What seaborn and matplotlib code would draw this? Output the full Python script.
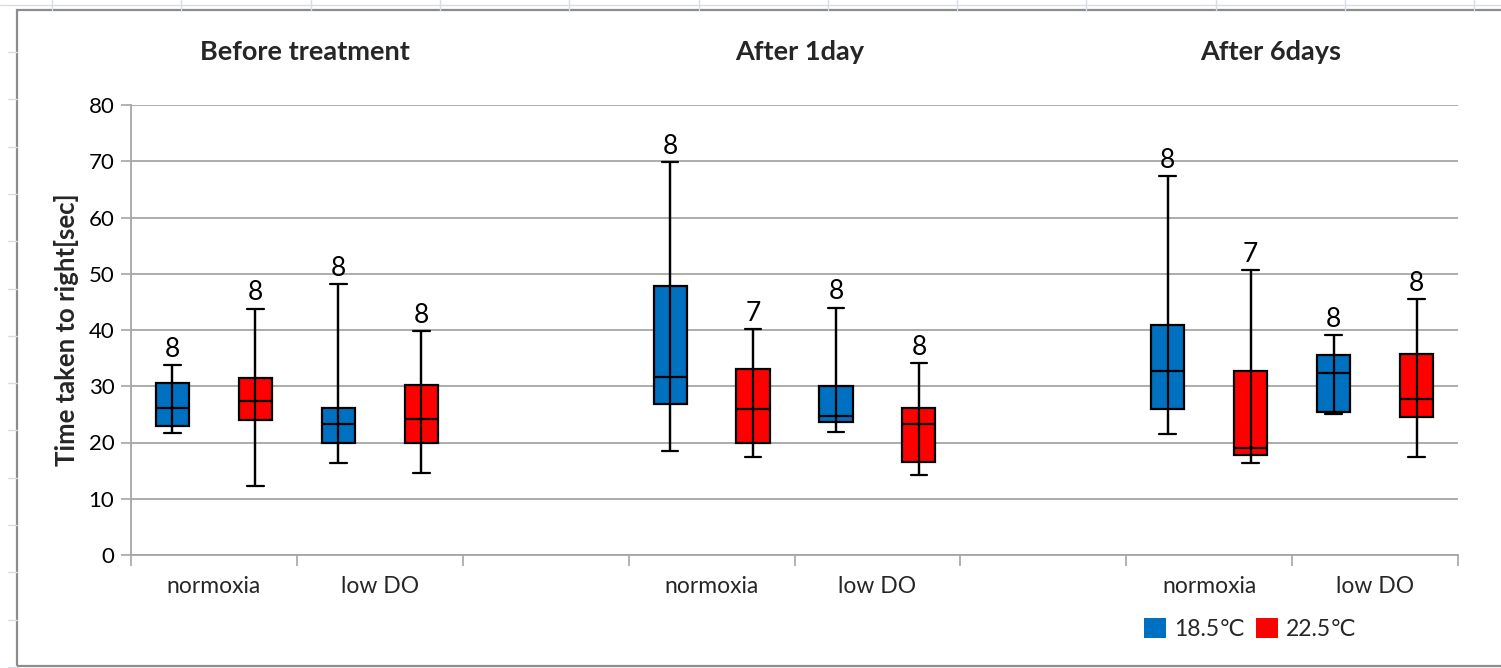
import numpy as np
import pandas as pd
import matplotlib
matplotlib.use("Agg")
import matplotlib.pyplot as plt
import seaborn as sns
from matplotlib.patches import Patch, Rectangle
from matplotlib.lines import Line2D

# ---------------- data ----------------
periods = ["Before treatment", "After 1day", "After 6days"]
conditions = ["normoxia", "low DO"]
temps = ["18.5℃", "22.5℃"]

# order of boxes: period -> condition -> temperature
box_period = ["Before treatment"] * 4 + ["After 1day"] * 4 + ["After 6days"] * 4
box_condition = ["normoxia", "normoxia", "low DO", "low DO"] * 3
box_temp = ["18.5℃", "22.5℃"] * 6

mins    = [21.7, 12.3, 16.4, 14.5,  18.5, 17.5, 21.9, 14.2,  21.6, 16.4, 25.0, 17.4]
q1s     = [22.9, 24.0, 19.9, 20.0,  26.9, 20.0, 23.6, 16.5,  25.9, 17.7, 25.5, 24.6]
medians = [26.2, 27.3, 23.3, 24.2,  31.6, 25.9, 24.7, 23.3,  32.7, 19.1, 32.3, 27.7]
q3s     = [30.5, 31.5, 26.1, 30.3,  47.8, 33.1, 30.0, 26.2,  40.9, 32.7, 35.6, 35.7]
maxs    = [33.8, 43.8, 48.2, 39.8,  69.8, 40.1, 44.0, 34.1,  67.3, 50.6, 39.1, 45.5]
n_labels = ["8", "8", "8", "8",  "8", "7", "8", "8",  "8", "7", "8", "8"]

y_ticks = [0, 10, 20, 30, 40, 50, 60, 70, 80]
y_label = "Time taken to right[sec]"
colors = ["#0070C0", "#FF0000"]

# ---------------- layout of category slots ----------------
slots = []
slot_labels = []
for i, p in enumerate(periods):
    for c in conditions:
        slots.append(f"{p}|{c}")
        slot_labels.append(c)
    if i < len(periods) - 1:
        slots.append(f"gap{i}")
        slot_labels.append("")

rows = []
for k in range(len(mins)):
    slot = f"{box_period[k]}|{box_condition[k]}"
    for v in (mins[k], q1s[k], medians[k], q3s[k], maxs[k]):
        rows.append({"slot": slot, "temp": box_temp[k], "value": v})
df = pd.DataFrame(rows)

# ---------------- figure ----------------
sns.set_theme(style="white")
plt.rcParams["font.family"] = ["Lato", "DejaVu Sans"]

fig = plt.figure(figsize=(15.01, 6.68), dpi=100)
ax = fig.add_axes([131 / 1501, 113 / 668, 1327 / 1501, 450 / 668])

grid_c = "#A6A6A6"
ax.set_axisbelow(True)
ax.yaxis.grid(True, color=grid_c, linewidth=1.3)

sns.boxplot(data=df, x="slot", y="value", hue="temp", order=slots,
            hue_order=temps, palette=colors, saturation=1, whis=(0, 100),
            width=1.0, gap=0.6, linecolor="black", linewidth=1.6,
            fliersize=0, legend=False, ax=ax)

# whisker line running through the box (Excel style) and n labels
offsets = {temps[0]: -0.25, temps[1]: 0.25}
for k in range(len(mins)):
    pos = slots.index(f"{box_period[k]}|{box_condition[k]}") + offsets[box_temp[k]]
    ax.vlines(pos, mins[k], maxs[k], color="black", linewidth=1.6, zorder=6)
    ax.annotate(n_labels[k], (pos, maxs[k]), xytext=(0, 6),
                textcoords="offset points", ha="center", va="baseline",
                fontsize=19, color="black")

ax.set_xlim(-0.5, len(slots) - 0.5)
ax.set_ylim(0, 80)
ax.set_yticks(y_ticks)
ax.tick_params(axis="y", which="major", length=7, width=1.2, color=grid_c,
               labelsize=16, pad=5, left=True, labelcolor="black")

ax.set_xticks(np.arange(len(slots) + 1) - 0.5)
ax.set_xticklabels([])
ax.set_xticks(np.arange(len(slots)), minor=True)
ax.set_xticklabels(slot_labels, minor=True)
ax.tick_params(axis="x", which="major", length=8, width=1.2, color=grid_c,
               bottom=True, direction="out")
ax.tick_params(axis="x", which="minor", length=0, labelsize=16.5, pad=15)
ax.set_xlabel("")
ax.set_ylabel(y_label, fontsize=18.5, fontweight="bold", labelpad=7)

for s in ("top", "right"):
    ax.spines[s].set_visible(False)
for s in ("left", "bottom"):
    ax.spines[s].set_color(grid_c)
    ax.spines[s].set_linewidth(1.3)

# group titles
title_x = [0.55, 3.53, 6.37]
for p, tx in zip(periods, title_x):
    ax.text(tx, 89.4, p, ha="center", va="center", fontsize=19.5,
            fontweight="bold", clip_on=False)

# legend
handles = [Patch(facecolor=c, edgecolor="none") for c in colors]
fig.legend(handles, temps, loc="center left",
           bbox_to_anchor=(1144 / 1501, 1 - 629 / 668), ncol=2,
           frameon=False, fontsize=16.5, handlelength=0.95, handleheight=0.95,
           handletextpad=0.35, columnspacing=0.5, borderaxespad=0,
           borderpad=0)

# chart border and faint spreadsheet lines
light = "#D6DCE8"
fig.add_artist(Line2D([0, 1], [1 - 4.5 / 668] * 2, color=light, lw=1,
                      transform=fig.transFigure))
for xpx in np.arange(52, 1501, 129.3):
    fig.add_artist(Line2D([xpx / 1501] * 2, [1 - 10 / 668, 1], color=light,
                          lw=1, transform=fig.transFigure))
for ypx in np.arange(52, 668, 47.3):
    fig.add_artist(Line2D([8 / 1501, 17 / 1501], [1 - ypx / 668] * 2,
                          color=light, lw=1, transform=fig.transFigure))
fig.add_artist(Rectangle((17 / 1501, 2 / 668), 1.0, 656 / 668,
                         transform=fig.transFigure, fill=False,
                         edgecolor="#8C8C8C", linewidth=1.6))

fig.savefig("out.png", dpi=100)
